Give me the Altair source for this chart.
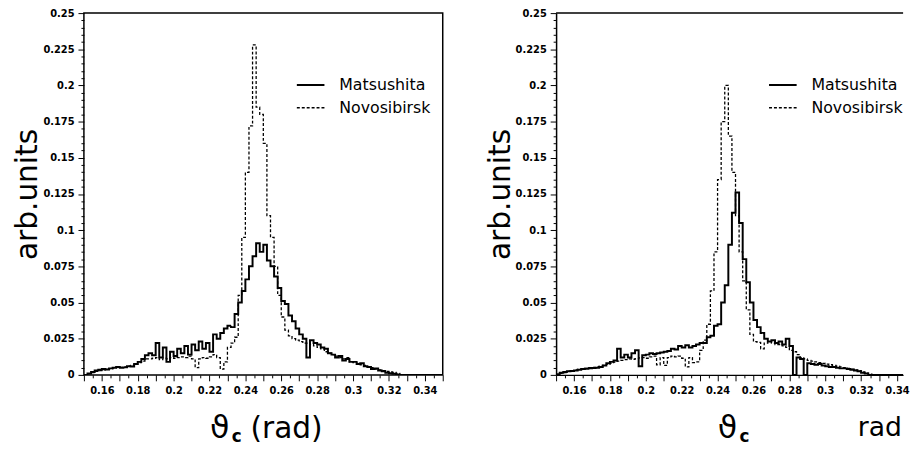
import altair as alt
import pandas as pd

# ---------------- data (bin contents, bins of width 0.002 starting at 0.150) ----------------
BIN_START = 0.15
BIN_WIDTH = 0.002
X_DOMAIN = [0.15, 0.35]
Y_DOMAIN = [0.0, 0.25]
series_names = ["Matsushita", "Novosibirsk"]

left_matsushita = [
    0, 0.001, 0.002, 0.003, 0.0035, 0.004, 0.0038, 0.0045, 0.005, 0.0055,
    0.005, 0.0052, 0.006, 0.0058, 0.0075, 0.009, 0.011, 0.0135, 0.015, 0.0135,
    0.022, 0.012, 0.019, 0.009, 0.016, 0.013, 0.018, 0.015, 0.02, 0.014,
    0.021, 0.017, 0.023, 0.018, 0.022, 0.016, 0.028, 0.025, 0.029, 0.032,
    0.034, 0.033, 0.042, 0.05, 0.058, 0.066, 0.075, 0.082, 0.091, 0.085,
    0.09, 0.079, 0.075, 0.068, 0.06, 0.051, 0.049, 0.041, 0.037, 0.032,
    0.028, 0.025, 0.012, 0.024, 0.022, 0.021, 0.019, 0.018, 0.015, 0.014,
    0.012, 0.013, 0.01, 0.011, 0.009, 0.009, 0.0075, 0.008, 0.006, 0.0055,
    0.004, 0.0045, 0.003, 0.0025, 0.0015, 0.0012, 0.0008, 0.0003,
]
left_novosibirsk = [
    0, 0.0008, 0.0015, 0.0025, 0.003, 0.0035, 0.004, 0.0042, 0.005, 0.0055,
    0.0052, 0.0055, 0.006, 0.0065, 0.0075, 0.0085, 0.0095, 0.011, 0.011, 0.0115,
    0.012, 0.0105, 0.0115, 0.011, 0.012, 0.0115, 0.012, 0.0125, 0.012, 0.013,
    0.011, 0.005, 0.011, 0.012, 0.0115, 0.0125, 0.014, 0.012, 0.004, 0.009,
    0.019, 0.022, 0.026, 0.055, 0.095, 0.14, 0.172, 0.228, 0.185, 0.18,
    0.16, 0.11, 0.095, 0.075, 0.055, 0.04, 0.031, 0.027, 0.025, 0.024,
    0.023, 0.022, 0.022, 0.021, 0.02, 0.019, 0.018, 0.016, 0.015, 0.014,
    0.013, 0.012, 0.011, 0.012, 0.009, 0.0085, 0.008, 0.007, 0.0065, 0.0055,
    0.005, 0.004, 0.0035, 0.003, 0.0025, 0.002, 0.0018, 0.001,
]
right_matsushita = [
    0.0005, 0.0015, 0.002, 0.0025, 0.0027, 0.003, 0.0035, 0.004, 0.0042, 0.0045,
    0.0048, 0.005, 0.0054, 0.0065, 0.008, 0.009, 0.01, 0.018, 0.012, 0.014,
    0.012, 0.015, 0.017, 0.006, 0.0135, 0.014, 0.015, 0.0145, 0.015, 0.0155,
    0.016, 0.0165, 0.018, 0.0175, 0.02, 0.019, 0.0205, 0.019, 0.02, 0.021,
    0.022, 0.022, 0.026, 0.027, 0.034, 0.035, 0.05, 0.062, 0.09, 0.112,
    0.126, 0.105, 0.08, 0.064, 0.05, 0.038, 0.033, 0.029, 0.025, 0.023,
    0.024, 0.022, 0.023, 0.021, 0.025, 0.02, 0.0, 0.012, 0.011, 0.0,
    0.008, 0.0075, 0.007, 0.0075, 0.0065, 0.006, 0.0055, 0.0055, 0.005, 0.0045,
    0.0045, 0.004, 0.0035, 0.003, 0.0025, 0.0015, 0.001, 0,
]
right_novosibirsk = [
    0, 0.001, 0.0015, 0.0025, 0.003, 0.0035, 0.0038, 0.0042, 0.0045, 0.005,
    0.0052, 0.0055, 0.006, 0.0065, 0.0072, 0.008, 0.0088, 0.0095, 0.01, 0.0105,
    0.011, 0.0108, 0.0112, 0.0118, 0.012, 0.0115, 0.0125, 0.013, 0.007, 0.012,
    0.0065, 0.012, 0.013, 0.0125, 0.013, 0.0115, 0.0055, 0.012, 0.0085, 0.009,
    0.017, 0.024, 0.035, 0.058, 0.085, 0.135, 0.175, 0.2, 0.165, 0.14,
    0.11, 0.085, 0.065, 0.045, 0.028, 0.023, 0.0225, 0.018, 0.022, 0.023,
    0.022, 0.021, 0.021, 0.02, 0.019, 0.017, 0.016, 0.014, 0.012, 0.011,
    0.01, 0.0095, 0.009, 0.0085, 0.008, 0.0075, 0.007, 0.0065, 0.006, 0.0055,
    0.005, 0.0045, 0.004, 0.0035, 0.003, 0.002, 0.0012, 0.0005,
]

# axis tick positions (every 0.005); labels every 0.02 / 0.025
x_tick_values = [round(0.15 + 0.005 * k, 3) for k in range(41)]
y_tick_values = [round(0.005 * k, 3) for k in range(51)]

FONT = "DejaVu Sans"
W, H = 364, 367
PX_PER_UNIT = W / (X_DOMAIN[1] - X_DOMAIN[0])
W_RIGHT = 352  # right panel is cut off by the page edge, as in the original
X_DOMAIN_RIGHT = [X_DOMAIN[0], X_DOMAIN[0] + W_RIGHT / PX_PER_UNIT]


def hist_df(m_vals, n_vals):
    rows = []
    for name, vals in ((series_names[0], m_vals), (series_names[1], n_vals)):
        for i, v in enumerate(vals):
            rows.append({"x": round(BIN_START + BIN_WIDTH * i, 4), "y": v, "series": name})
        end = round(BIN_START + BIN_WIDTH * len(vals), 4)
        rows.append({"x": end, "y": 0.0, "series": name})
        rows.append({"x": X_DOMAIN[1], "y": 0.0, "series": name})
    return pd.DataFrame(rows)


def x_axis(values, domain_line):
    return alt.Axis(
        values=values,
        labelExpr="abs(datum.value*50 - round(datum.value*50)) < 0.001 ? format(datum.value, '~g') : ''",
        title=None, domain=domain_line, domainColor="black", domainWidth=1.5, grid=False,
        tickColor="black", tickWidth=1,
        tickSize={"condition": {"test": "abs(datum.value*100 - round(datum.value*100)) < 0.001", "value": 6}, "value": 3},
        labelFont=FONT, labelFontWeight="bold", labelFontSize=10, labelColor="black",
        labelPadding=5, labelOverlap=False, labelFlush=False,
    )


def y_axis(domain_line):
    return alt.Axis(
        values=y_tick_values,
        labelExpr="abs(datum.value*40 - round(datum.value*40)) < 0.001 ? format(datum.value, '~g') : ''",
        title="arb.units", titleFont=FONT, titleFontSize=30, titleFontWeight="normal",
        titleColor="black", titlePadding=0,
        domain=domain_line, domainColor="black", domainWidth=1.5, grid=False,
        tickColor="black", tickWidth=1,
        tickSize={"condition": {"test": "abs(datum.value*40 - round(datum.value*40)) < 0.001", "value": 6}, "value": 3},
        labelFont=FONT, labelFontWeight="bold", labelFontSize=10, labelColor="black",
        labelPadding=4, labelOverlap=False, labelFlush=False,
    )


dash_range = [[1, 0], [3, 2]]
width_range = [2.0, 1.3]
legend_rows = [73, 96]


def panel(m_vals, n_vals, title_marks, x_domain, width, cut):
    df = hist_df(m_vals, n_vals)
    ticks = [t for t in x_tick_values if t <= x_domain[1] + 1e-9]
    lines = alt.Chart(df).mark_line(interpolate="step-after", color="black", clip=True).encode(
        x=alt.X("x:Q", scale=alt.Scale(domain=x_domain, nice=False, zero=False), axis=x_axis(ticks, cut)),
        y=alt.Y("y:Q", scale=alt.Scale(domain=Y_DOMAIN, nice=False), axis=y_axis(cut)),
        strokeDash=alt.StrokeDash("series:N", scale=alt.Scale(domain=series_names, range=dash_range), legend=None),
        strokeWidth=alt.StrokeWidth("series:N", scale=alt.Scale(domain=series_names, range=width_range), legend=None),
        detail="series:N",
    )
    layers = [lines]
    if cut:
        # top edge of the frame (the right edge lies beyond the page)
        layers.append(
            alt.Chart(pd.DataFrame({"edge": ["top"]})).mark_rule(color="black", strokeWidth=1.5).encode(
                x=alt.value(0), x2=alt.value(width), y=alt.value(0)
            )
        )
    for name, ly, dash, sw in zip(series_names, legend_rows, dash_range, width_range):
        one = pd.DataFrame({"series": [name]})
        layers.append(
            alt.Chart(one).mark_rule(color="black", strokeWidth=sw, strokeDash=dash).encode(
                x=alt.value(216), x2=alt.value(244), y=alt.value(ly)
            )
        )
        layers.append(
            alt.Chart(one).mark_text(align="left", baseline="middle", font=FONT, fontSize=16, color="black").encode(
                x=alt.value(259), y=alt.value(ly), text="series:N"
            )
        )
    for txt, tx, ty, fs, fw in title_marks:
        layers.append(
            alt.Chart(pd.DataFrame({"t": [txt]})).mark_text(
                align="left", baseline="alphabetic", font=FONT, fontSize=fs, fontWeight=fw, color="black"
            ).encode(x=alt.value(tx), y=alt.value(ty), text="t:N")
        )
    props = {"width": width, "height": H}
    if cut:
        props["view"] = alt.ViewBackground(stroke="transparent")
    return alt.layer(*layers).properties(**props)


left_title = [("ϑ", 128, 431, 32, "normal"), ("c", 150, 435, 17, "bold"), ("(rad)", 169, 431, 30, "normal")]
right_title = [("ϑ", 164, 431, 32, "normal"), ("c", 186, 435, 17, "bold"), ("rad", 306, 429, 27, "normal")]

chart = alt.hconcat(
    panel(left_matsushita, left_novosibirsk, left_title, X_DOMAIN, W, False),
    panel(right_matsushita, right_novosibirsk, right_title, X_DOMAIN_RIGHT, W_RIGHT, True),
    spacing=40,
).properties(
    padding={"left": 4, "top": -4, "right": 0, "bottom": 0}
).configure_view(stroke="black", strokeWidth=1.5)

chart.save("out.html", embed_options={"renderer": "svg", "actions": False})
